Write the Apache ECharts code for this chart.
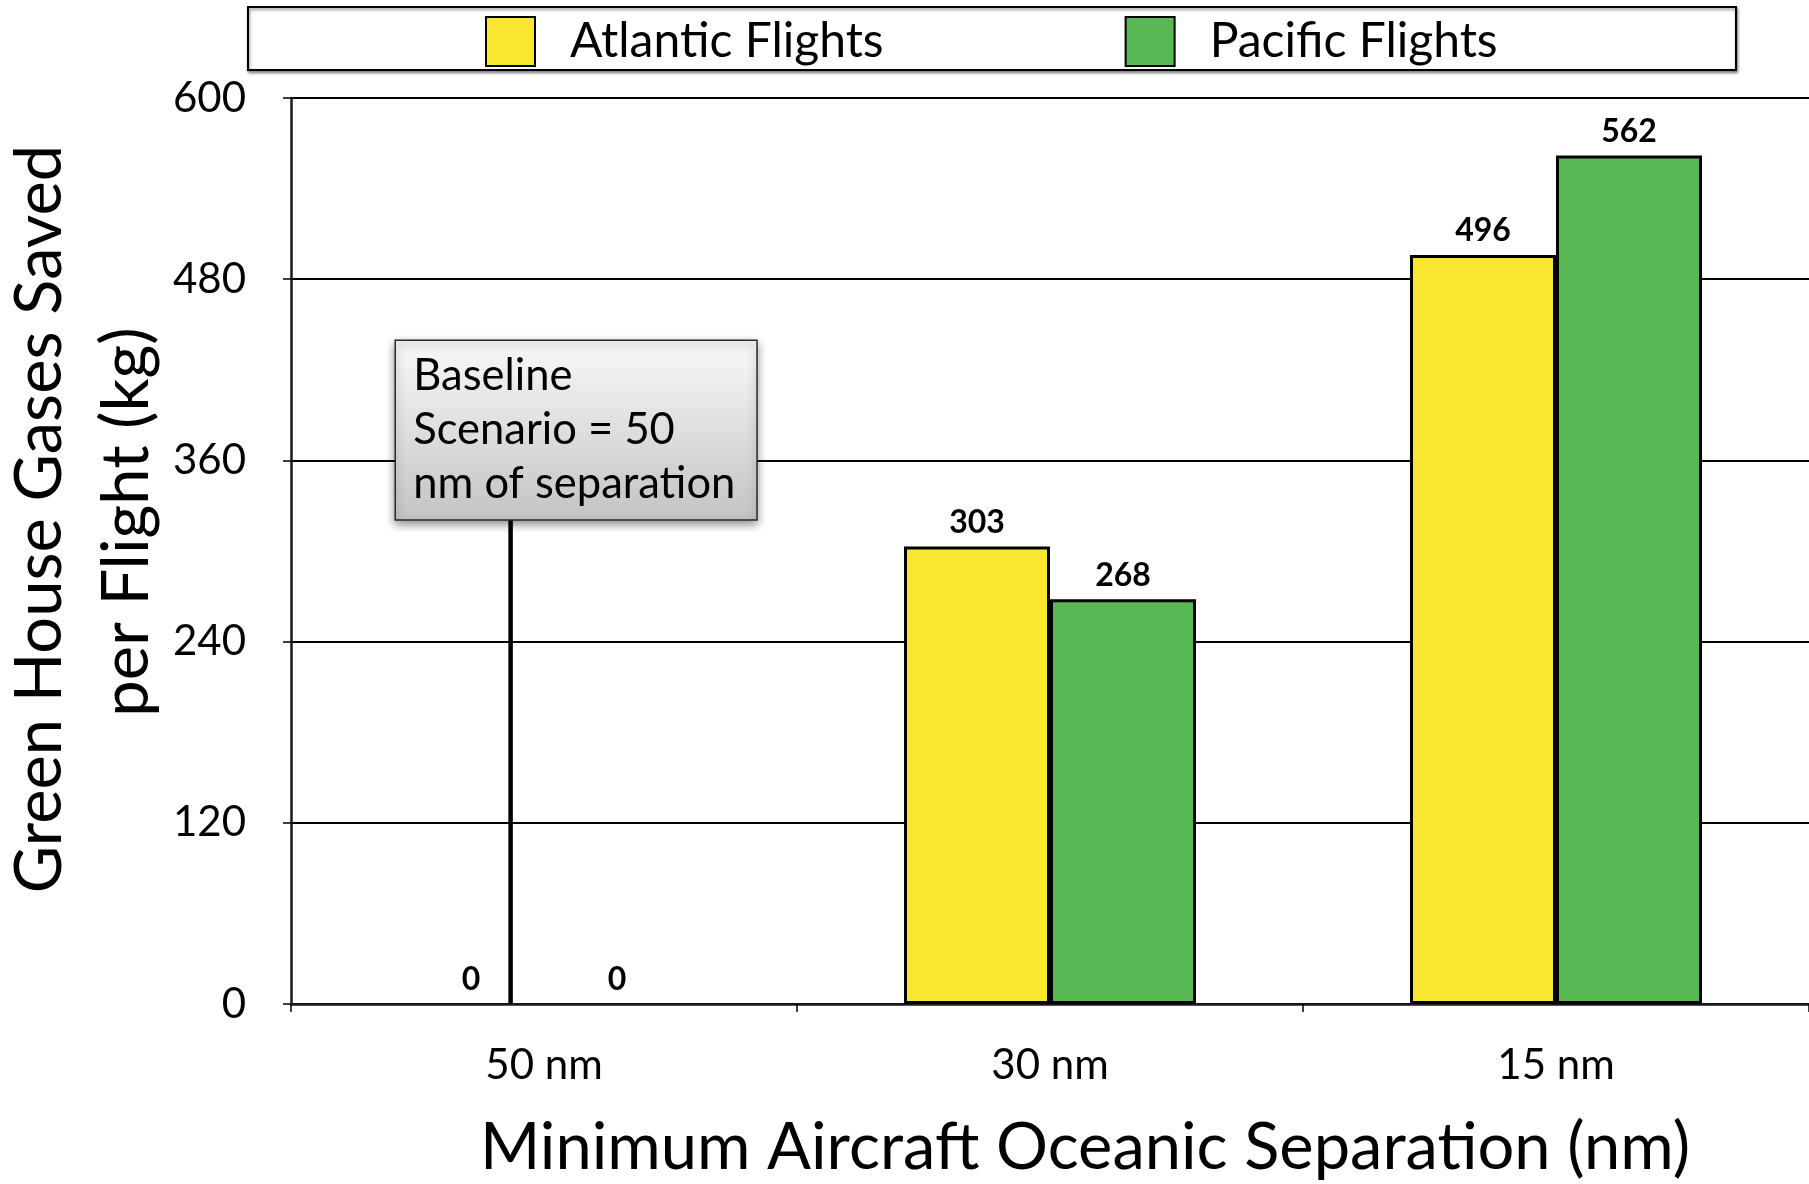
<!DOCTYPE html>
<html>
<head>
<meta charset="utf-8">
<title>Green House Gases Saved per Flight</title>
<script src="https://cdn.jsdelivr.net/npm/echarts@6/dist/echarts.min.js"></script>
<style>
  html, body { margin: 0; padding: 0; background: #ffffff; }
  #chart { width: 1809px; height: 1184px; }
</style>
</head>
<body>
<div id="chart"></div>
<script>
// Separation scenarios on the x axis
const categories = ['50 nm', '30 nm', '15 nm'];
// Green house gases saved per flight, kg
const atlanticValues = [0, 303, 496];
const pacificValues = [0, 268, 562];
// Value axis ticks
const yTicks = [0, 120, 240, 360, 480, 600];
// Callout text for the baseline scenario
const baselineNote = ['Baseline', 'Scenario = 50', 'nm of separation'];

const FONT = 'Lato, "Open Sans", sans-serif';
const YELLOW = '#f9e630';
const GREEN = '#58b853';

// Zero-height bars get no outline so they don't thicken the axis line
function barItems(values) {
  return values.map(v => (v === 0 ? { value: v, itemStyle: { borderWidth: 0 } } : v));
}

const chart = echarts.init(document.getElementById('chart'), null, { renderer: 'canvas' });

const valueLabel = {
  show: true, position: 'top', distance: 8,
  fontFamily: FONT, fontSize: 32, fontWeight: 'bold', color: '#000'
};

const option = {
  backgroundColor: '#ffffff',
  animation: false,
  textStyle: { fontFamily: FONT, color: '#000' },
  grid: { left: 291, width: 1524, top: 98, bottom: 180, containLabel: false },
  legend: {
    left: 485,
    top: 16,
    padding: 0,
    itemWidth: 49,
    itemHeight: 49,
    itemGap: 241,
    icon: 'rect',
    itemStyle: { borderColor: '#000', borderWidth: 2 },
    textStyle: { fontFamily: FONT, fontSize: 48, color: '#000', padding: [0, 0, 0, 30] },
    data: ['Atlantic Flights', 'Pacific Flights']
  },
  xAxis: {
    type: 'category',
    data: categories,
    axisLine: { show: true, lineStyle: { color: '#1a1a1a', width: 2.5 } },
    axisTick: { show: true, length: 8, lineStyle: { color: '#000', width: 1.5 } },
    axisLabel: { fontFamily: FONT, fontSize: 42, color: '#000', margin: 40 },
    splitLine: { show: false }
  },
  yAxis: {
    type: 'value',
    min: yTicks[0],
    max: yTicks[yTicks.length - 1],
    interval: yTicks[1] - yTicks[0],
    axisLine: { show: true, lineStyle: { color: '#1a1a1a', width: 2.5 } },
    axisTick: { show: true, length: 8, lineStyle: { color: '#000', width: 1.5 } },
    axisLabel: { fontFamily: FONT, fontSize: 42, color: '#000', margin: 45 },
    splitLine: { show: true, lineStyle: { color: '#000', width: 2 } }
  },
  series: [
    {
      name: 'Atlantic Flights',
      type: 'bar',
      data: barItems(atlanticValues),
      barWidth: 146,
      barGap: '0%',
      itemStyle: { color: YELLOW, borderColor: '#000', borderWidth: 3 },
      label: valueLabel
    },
    {
      name: 'Pacific Flights',
      type: 'bar',
      data: barItems(pacificValues),
      barWidth: 146,
      barGap: '0%',
      itemStyle: { color: GREEN, borderColor: '#000', borderWidth: 3 },
      label: valueLabel
    }
  ]
};

chart.setOption(option);

// Legend frame, axis titles and baseline callout, placed from the axes' own scales
function drawOverlays() {
  const center = chart.convertToPixel({ xAxisIndex: 0 }, categories[0]);
  const next = chart.convertToPixel({ xAxisIndex: 0 }, categories[1]);
  const band = next - center;
  const yZero = chart.convertToPixel({ yAxisIndex: 0 }, 0);
  const boxTop = chart.convertToPixel({ yAxisIndex: 0 }, 439.5);
  const boxBottom = chart.convertToPixel({ yAxisIndex: 0 }, 320.5);
  const boxLeft = center - 0.294 * band;
  const boxRight = center + 0.421 * band;
  const lineX = center - 0.066 * band;

  chart.setOption({
    graphic: [
      {
        type: 'rect',
        z: -1,
        shape: { x: 248, y: 7, width: 1488, height: 63 },
        style: {
          fill: '#ffffff', stroke: '#000', lineWidth: 2,
          shadowBlur: 3, shadowOffsetX: 1, shadowOffsetY: 2, shadowColor: 'rgba(0,0,0,0.45)'
        }
      },
      {
        type: 'line',
        z: 20,
        shape: { x1: lineX, y1: boxBottom, x2: lineX, y2: yZero },
        style: { stroke: '#000', lineWidth: 4.5 }
      },
      {
        type: 'rect',
        z: 21,
        shape: { x: boxLeft, y: boxTop, width: boxRight - boxLeft, height: boxBottom - boxTop },
        style: {
          fill: new echarts.graphic.LinearGradient(0, 0, 0, 1, [
            { offset: 0, color: '#f9f9f9' },
            { offset: 1, color: '#c3c3c3' }
          ]),
          stroke: '#2a2a2a', lineWidth: 1.5,
          shadowBlur: 9, shadowOffsetX: 0, shadowOffsetY: 4, shadowColor: 'rgba(0,0,0,0.45)'
        }
      },
      {
        type: 'text',
        z: 22,
        x: boxLeft + 18,
        y: boxTop + 9,
        style: {
          text: baselineNote.join('\n'),
          fontFamily: FONT, fontSize: 43.5, lineHeight: 54,
          fill: '#000', align: 'left', verticalAlign: 'top'
        }
      },
      {
        type: 'text',
        x: 1085,
        y: 1148,
        style: {
          text: 'Minimum Aircraft Oceanic Separation (nm)',
          fontFamily: FONT, fontSize: 65, fill: '#000',
          align: 'center', verticalAlign: 'middle'
        }
      },
      {
        type: 'text',
        x: 40,
        y: 519,
        rotation: Math.PI / 2,
        style: {
          text: 'Green House Gases Saved',
          fontFamily: FONT, fontSize: 65, fill: '#000',
          align: 'center', verticalAlign: 'middle'
        }
      },
      {
        type: 'text',
        x: 127,
        y: 522,
        rotation: Math.PI / 2,
        style: {
          text: 'per Flight (kg)',
          fontFamily: FONT, fontSize: 65, fill: '#000',
          align: 'center', verticalAlign: 'middle'
        }
      }
    ]
  });
}

drawOverlays();
</script>
</body>
</html>
